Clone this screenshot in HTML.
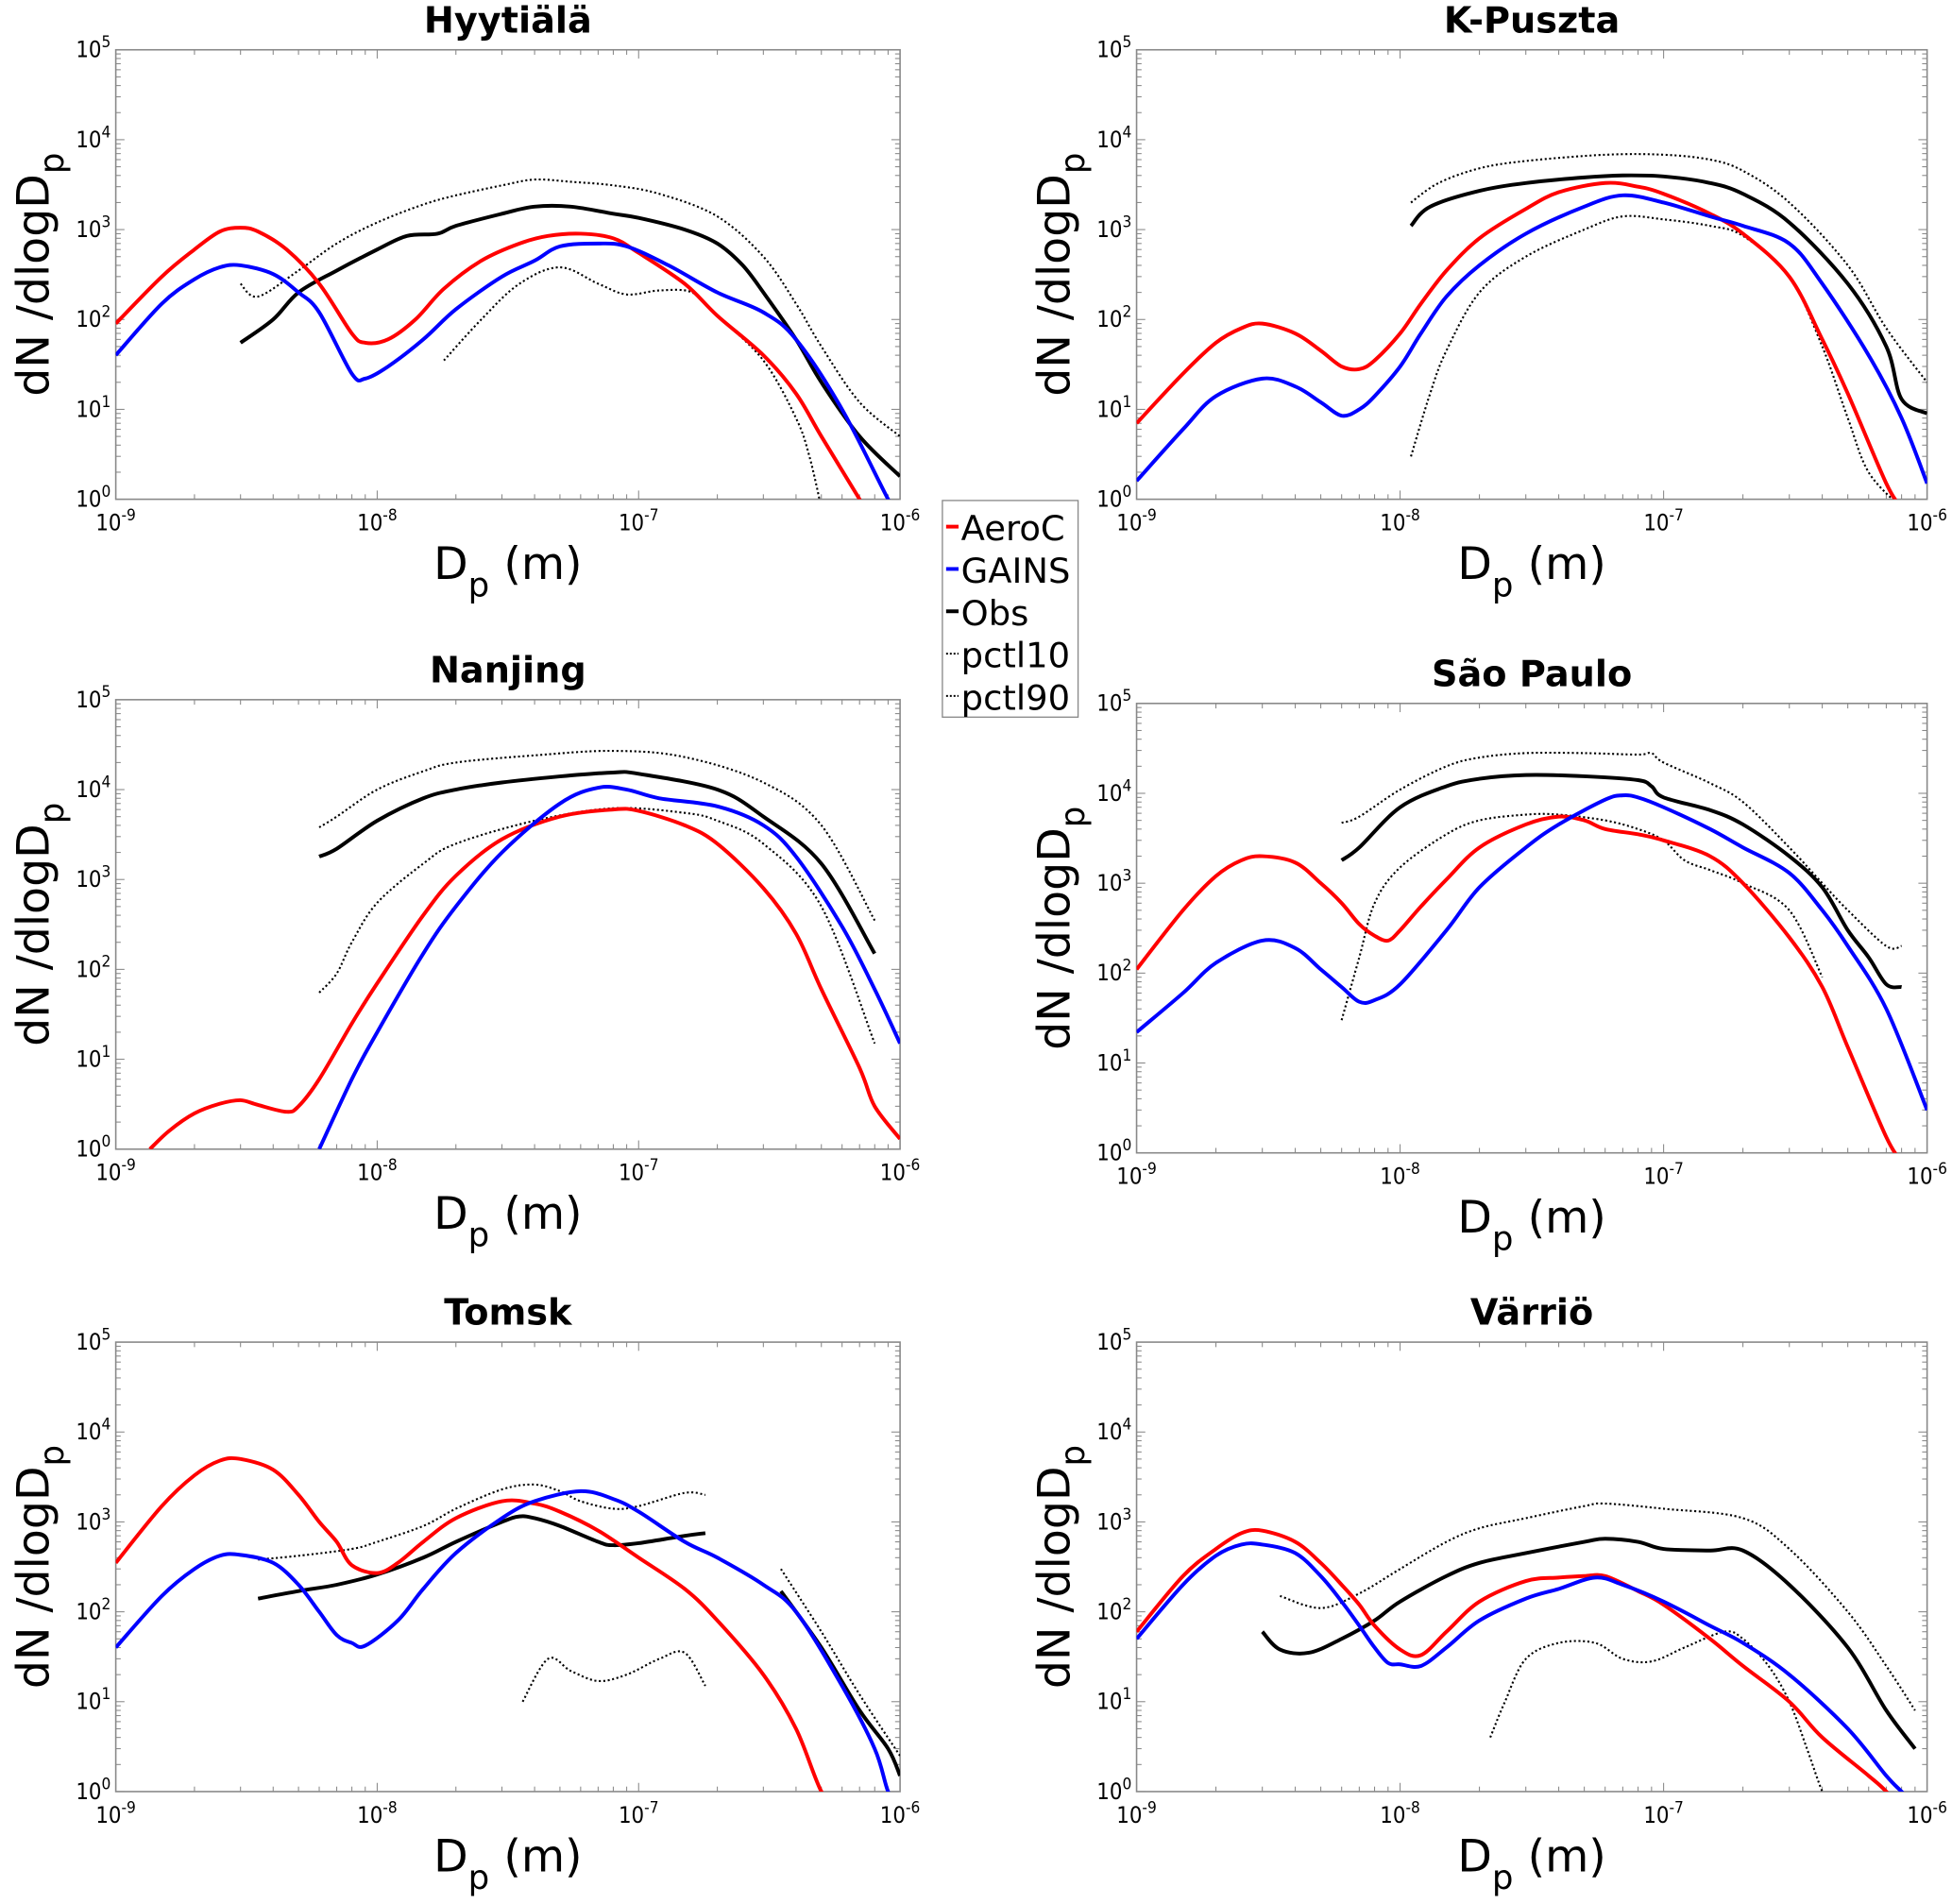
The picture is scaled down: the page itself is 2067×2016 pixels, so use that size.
<!DOCTYPE html>
<html><head><meta charset="utf-8"><style>
html,body{margin:0;padding:0;background:#fff;}
svg{display:block;}
text{font-family:"DejaVu Sans","Liberation Sans",sans-serif;}
.ttl{font-family:"Liberation Sans","DejaVu Sans",sans-serif;}
.tick{font-family:"DejaVu Sans Condensed","DejaVu Sans","Liberation Sans",sans-serif;}
</style></head><body>
<svg id="fig" width="2067" height="2016" viewBox="0 0 1568 1529.3" preserveAspectRatio="none" xmlns="http://www.w3.org/2000/svg">
<g id="legend">
<rect x="757" y="402" width="109" height="174" fill="#fff" stroke="#888" stroke-width="1"/>
<line x1="760" y1="423" x2="770" y2="423" stroke="#f00" stroke-width="3"/><text x="772" y="434" font-size="28">AeroC</text>
<line x1="760" y1="457" x2="770" y2="457" stroke="#00f" stroke-width="3"/><text x="772" y="468" font-size="28">GAINS</text>
<line x1="760" y1="491" x2="770" y2="491" stroke="#000" stroke-width="3"/><text x="772" y="502" font-size="28">Obs</text>
<line x1="760" y1="525" x2="770" y2="525" stroke="#000" stroke-width="1.5" stroke-dasharray="1.5,1.5"/><text x="772" y="536" font-size="28">pctl10</text>
<line x1="760" y1="559" x2="770" y2="559" stroke="#000" stroke-width="1.5" stroke-dasharray="1.5,1.5"/><text x="772" y="570" font-size="28">pctl90</text>
</g>
</svg>
<script>
// Data: [diameter (nm), dN/dlogDp]
const hyy_aeroc = [[1,90],[1.5,300],[2,600],[2.5,950],[3,1050],[3.5,950],[4.5,600],[6,250],[8,70],[9,55],[11,60],[14,100],[18,220],[25,450],[35,700],[45,850],[60,900],[80,800],[100,550],[150,250],[200,110],[300,40],[400,15],[500,5],[700,1],[800,0.5]];
const hyy_gains = [[1,40],[1.5,150],[2,280],[2.5,380],[3,400],[4,320],[5,200],[6,120],[8,25],[9,22],[11,30],[15,60],[20,130],[30,300],[40,450],[50,650],[70,700],[90,650],[130,400],[200,200],[300,120],[400,60],[600,10],[900,1],[1000,0.6]];
const hyy_obs = [[3,55],[4,100],[5,200],[7,350],[10,600],[13,850],[17,900],[20,1100],[30,1500],[40,1800],[55,1800],[80,1500],[100,1350],[150,1000],[200,700],[250,400],[300,200],[400,60],[500,20],[700,5],[1000,1.8]];
const hyy_p90 = [[3,250],[3.5,180],[5,350],[7,700],[10,1200],[15,1900],[20,2400],[30,3100],[40,3600],[55,3400],[80,3100],[120,2500],[200,1400],[300,500],[400,150],[500,50],[700,12],[1000,5]];
const hyy_p10 = [[18,35],[25,100],[35,250],[50,380],[70,250],[90,190],[120,210],[160,200],[200,110],[300,35],[400,8],[450,3],[500,0.8]];

const kp_aeroc = [[1,7],[1.5,25],[2,55],[2.5,80],[3,90],[4,70],[5,45],[6,30],[7,28],[8,35],[10,70],[12,150],[15,350],[20,800],[30,1700],[40,2600],[60,3300],[80,3000],[100,2500],[150,1500],[200,900],[300,300],[400,60],[500,15],[700,1.5],[800,0.8]];
const kp_gains = [[1,1.6],[1.5,6],[2,14],[3,22],[4,18],[5,12],[6,8.5],[7,10],[8,14],[10,30],[12,70],[15,180],[20,400],[30,900],[50,1800],[70,2400],[100,2000],[150,1400],[200,1100],[300,700],[400,250],[600,40],[800,8],[1000,1.5]];
const kp_obs = [[11,1100],[13,1800],[20,2700],[30,3300],[50,3800],[70,4000],[100,3900],[150,3300],[200,2500],[300,1200],[500,250],[700,50],[800,13],[1000,9]];
const kp_p90 = [[11,2000],[14,3300],[20,4800],[30,5800],[60,6800],[100,6800],[150,6000],[200,4500],[300,2000],[500,400],[700,80],[1000,20]];
const kp_p10 = [[11,3],[13,15],[15,45],[20,200],[30,500],[50,1000],[70,1400],[100,1300],[150,1100],[200,850],[300,300],[400,50],[500,8],[600,2],[800,0.8]];

const nj_aeroc = [[1.35,1],[1.6,1.6],[2,2.5],[2.5,3.2],[3,3.5],[3.5,3.1],[4.5,2.6],[5,3],[6,6],[8,25],[10,70],[15,400],[20,1100],[30,2800],[50,5000],[80,6000],[100,5800],[150,4000],[200,2500],[300,800],[400,250],[500,60],[700,8],[800,3],[1000,1.3]];
const nj_gains = [[6,1],[8,6],[10,20],[15,150],[20,500],[30,2000],[50,7000],[70,10500],[90,10000],[120,8000],[200,6500],[300,4000],[400,1800],[600,300],[800,60],[1000,15]];
const nj_obs = [[6,1800],[7,2200],[10,4500],[15,8000],[20,10000],[30,12000],[50,14000],[80,15500],[100,15000],[200,10000],[300,5000],[500,1500],[800,150]];
const nj_p90 = [[6,3800],[7,5000],[10,10000],[15,16000],[20,20000],[40,24000],[80,27000],[150,23000],[300,12000],[500,4000],[800,350]];
const nj_p10 = [[6,55],[7,90],[8,200],[10,550],[15,1500],[20,2500],[40,4500],[80,6200],[150,5500],[200,4500],[300,2500],[500,500],[800,15]];

const sp_aeroc = [[1,110],[1.5,500],[2,1200],[2.5,1800],[3,2000],[4,1700],[5,1000],[6,600],[7,350],[8,260],[9,230],[10,300],[12,550],[15,1100],[20,2500],[30,4500],[40,5500],[50,5000],[60,4000],[80,3500],[100,3000],[150,2000],[200,1000],[300,250],[400,70],[500,15],[700,1.5],[800,0.8]];
const sp_gains = [[1,22],[1.5,60],[2,130],[3,230],[4,190],[5,110],[6,70],[7,48],[8,50],[10,75],[15,300],[20,900],[30,2500],[40,4500],[60,8500],[70,9500],[80,9000],[100,7000],[150,4000],[200,2500],[300,1300],[400,500],[500,200],[700,40],[1000,3]];
const sp_obs = [[6,1800],[7,2500],[10,7000],[15,12000],[20,14500],[30,16000],[50,15500],[80,14000],[90,12000],[100,9000],[150,6500],[200,4500],[300,2000],[400,900],[500,300],[600,150],[700,75],[800,70]];
const sp_p90 = [[6,4700],[7,5500],[10,11000],[15,20000],[20,25000],[30,28000],[50,28000],[80,27000],[90,28000],[100,22000],[150,13000],[200,8000],[300,2500],[400,1000],[500,500],[700,200],[800,200]];
const sp_p10 = [[6,30],[7,150],[8,600],[10,1500],[15,3500],[20,5000],[30,5800],[40,5800],[60,5000],[80,4000],[100,3000],[120,1800],[150,1400],[200,1000],[300,500],[400,90]];

const tm_aeroc = [[1,350],[1.5,1500],[2,3300],[2.5,4800],[3,5000],[4,3800],[5,2000],[6,1000],[7,600],[8,330],[10,270],[12,350],[15,600],[20,1100],[30,1700],[40,1600],[50,1300],[70,800],[100,400],[150,180],[200,80],[300,20],[400,5],[500,1],[600,0.5]];
const tm_gains = [[1,40],[1.5,150],[2,300],[2.5,420],[3,430],[4,350],[5,200],[6,100],[7,55],[8,45],[9,42],[12,80],[15,180],[20,450],[30,1100],[40,1700],[60,2200],[80,1800],[100,1300],[150,600],[200,400],[300,200],[400,100],[600,15],[800,3],[900,1],[1000,0.6]];
const tm_obs = [[3.5,140],[5,170],[7,200],[10,260],[15,400],[20,600],[30,1000],[35,1150],[40,1100],[50,900],[70,600],[80,550],[100,580],[150,700],[180,750]];
const tm_obs2 = [[350,170],[500,40],[700,8],[900,3],[1000,1.5]];
const tm_p90 = [[3.5,380],[5,420],[8,500],[10,600],[15,900],[20,1400],[30,2300],[40,2600],[50,2200],[60,1700],[80,1400],[100,1500],[150,2100],[180,2000]];
const tm_p90b = [[350,300],[500,60],[700,12],[1000,2.5]];
const tm_p10 = [[36,10],[45,30],[55,22],[70,17],[90,20],[120,30],[150,35],[180,15]];

const va_aeroc = [[1,60],[1.5,250],[2,500],[2.5,750],[3,800],[4,600],[5,350],[6,200],[7,120],[8,70],[10,38],[12,33],[15,60],[20,130],[30,220],[40,240],[50,250],[60,250],[80,170],[100,120],[150,50],[200,25],[300,10],[400,4],[600,1.5],[700,1],[800,0.6]];
const va_gains = [[1,50],[1.5,200],[2,420],[2.5,560],[3,560],[4,450],[5,250],[6,130],[7,70],[8,40],[9,27],[10,26],[12,25],[15,40],[20,80],[30,140],[40,180],[55,240],[70,200],[100,130],[150,70],[200,45],[300,20],[500,5],[700,1.5],[800,1],[900,0.7]];
const va_obs = [[3,60],[3.5,38],[4.5,35],[6,50],[8,80],[10,130],[15,250],[20,350],[30,450],[50,600],[60,650],[80,600],[100,500],[150,480],[200,480],[300,200],[500,40],[700,8],[900,3]];
const va_p90 = [[3.5,150],[5,110],[7,160],[10,300],[15,600],[20,850],[30,1100],[50,1500],[60,1600],[100,1400],[200,1100],[300,500],[500,100],[700,25],[900,8]];
const va_p10 = [[22,4],[25,10],[30,30],[40,45],[55,45],[70,30],[90,28],[120,40],[170,60],[200,50],[250,25],[300,10],[350,3],[400,1],[450,0.5]];

const panelTitles = ["Hyytiälä","K-Puszta","Nanjing","São Paulo","Tomsk","Värriö"];
const xTickExp = [-9,-8,-7,-6];
const yTickExp = [0,1,2,3,4,5];

const NS = "http://www.w3.org/2000/svg";
const svg = document.getElementById('fig');
function mk(tag, attrs, parent){ const e=document.createElementNS(NS,tag); for(const k in attrs) e.setAttribute(k,attrs[k]); (parent||svg).appendChild(e); return e; }

const panels = [
  {x0:93,x1:723,y0:40,y1:401,key:'hyytiala',series:[[hyy_p90,'p'],[hyy_p10,'p'],[hyy_obs,'o'],[hyy_aeroc,'r'],[hyy_gains,'b']]},
  {x0:913,x1:1548,y0:40,y1:401,key:'k-puszta',series:[[kp_p90,'p'],[kp_p10,'p'],[kp_obs,'o'],[kp_aeroc,'r'],[kp_gains,'b']]},
  {x0:93,x1:723,y0:562,y1:923,key:'nanjing',series:[[nj_p90,'p'],[nj_p10,'p'],[nj_obs,'o'],[nj_aeroc,'r'],[nj_gains,'b']]},
  {x0:913,x1:1548,y0:565,y1:926,key:'sao-paulo',series:[[sp_p90,'p'],[sp_p10,'p'],[sp_obs,'o'],[sp_aeroc,'r'],[sp_gains,'b']]},
  {x0:93,x1:723,y0:1078,y1:1439,key:'tomsk',series:[[tm_p90,'p'],[tm_p90b,'p'],[tm_p10,'p'],[tm_obs,'o'],[tm_obs2,'o'],[tm_aeroc,'r'],[tm_gains,'b']]},
  {x0:913,x1:1548,y0:1078,y1:1439,key:'varrio',series:[[va_p90,'p'],[va_p10,'p'],[va_obs,'o'],[va_aeroc,'r'],[va_gains,'b']]}
];
const styles = {p:{stroke:'#000',w:1.6,dash:'1.6,2',name:'pctl'},o:{stroke:'#000',w:3,dash:'',name:'obs-line'},r:{stroke:'#f00',w:3,dash:'',name:'aeroc-line'},b:{stroke:'#00f',w:3,dash:'',name:'gains-line'}};

function smoothPath(pts){
  let d='M'+pts[0][0].toFixed(1)+','+pts[0][1].toFixed(1);
  for(let i=0;i<pts.length-1;i++){
    const p0=pts[Math.max(0,i-1)],p1=pts[i],p2=pts[i+1],p3=pts[Math.min(pts.length-1,i+2)];
    const c1x=p1[0]+(p2[0]-p0[0])/6,c1y=p1[1]+(p2[1]-p0[1])/6;
    const c2x=p2[0]-(p3[0]-p1[0])/6,c2y=p2[1]-(p3[1]-p1[1])/6;
    d+=' C'+c1x.toFixed(1)+','+c1y.toFixed(1)+' '+c2x.toFixed(1)+','+c2y.toFixed(1)+' '+p2[0].toFixed(1)+','+p2[1].toFixed(1);
  }
  return d;
}

panels.forEach((P,i)=>{
  const g = mk('g',{});
  
  
  const sx = d => P.x0 + (Math.log10(d*1e-9)+9)/3*(P.x1-P.x0);
  const sy = v => P.y1 - Math.log10(v)/5*(P.y1-P.y0);
  const xe = e => P.x0 + (e+9)/3*(P.x1-P.x0);
  const ye = e => P.y1 - e/5*(P.y1-P.y0);
  const cid = 'clip'+i;
  const cp = mk('clipPath',{id:cid},g);
  mk('rect',{x:P.x0,y:P.y0,width:P.x1-P.x0,height:P.y1-P.y0},cp);
  const tg = mk('g',{stroke:'#888','stroke-width':0.8},g);
  for(let e=-9;e<-6;e++){ for(let m=1;m<10;m++){ const X=P.x0+(e+9+Math.log10(m))/3*(P.x1-P.x0); const L=m===1?7:4;
    mk('line',{x1:X,y1:P.y1,x2:X,y2:P.y1-L},tg); mk('line',{x1:X,y1:P.y0,x2:X,y2:P.y0+L},tg);} }
  for(let e=0;e<5;e++){ for(let m=1;m<10;m++){ const Y=P.y1-(e+Math.log10(m))/5*(P.y1-P.y0); const L=m===1?7:4;
    mk('line',{x1:P.x0,y1:Y,x2:P.x0+L,y2:Y},tg); mk('line',{x1:P.x1,y1:Y,x2:P.x1-L,y2:Y},tg);} }
  const fr = mk('rect',{x:P.x0,y:P.y0,width:P.x1-P.x0,height:P.y1-P.y0,fill:'none',stroke:'#888','stroke-width':1.2},g);
  
  
  xTickExp.forEach(e=>{
    const t = mk('text',{x:xe(e),y:P.y1+25,'font-size':18,'text-anchor':'middle','class':'tick'},g);
    
    
    t.innerHTML = '10<tspan dy="-8" font-size="13">'+e+'</tspan>';
  });
  yTickExp.forEach(e=>{
    const t = mk('text',{x:P.x0-4,y:ye(e)+6,'font-size':18,'text-anchor':'end','class':'tick'},g);
    
    
    t.innerHTML = '10<tspan dy="-8" font-size="13">'+e+'</tspan>';
  });
  const sg = mk('g',{'clip-path':'url(#'+cid+')',fill:'none','stroke-linejoin':'round'},g);
  P.series.forEach(([arr,k])=>{
    const s = styles[k];
    const pts = arr.map(p=>[sx(p[0]),sy(p[1])]);
    const path = mk('path',{d:smoothPath(pts),stroke:s.stroke,'stroke-width':s.w},sg);
    if(s.dash) path.setAttribute('stroke-dasharray',s.dash);
    
    
  });
  const cx=(P.x0+P.x1)/2, cy=(P.y0+P.y1)/2;
  const ti = mk('text',{x:cx,y:P.y0-14,'font-size':29,'font-weight':'bold','text-anchor':'middle'},g);
  ti.textContent = panelTitles[i];
  
  
  const xl = mk('text',{x:cx,y:P.y1+64,'font-size':36,'text-anchor':'middle'},g);
  xl.innerHTML = 'D<tspan dy="14" font-size="27">p</tspan><tspan dy="-14"> (m)</tspan>';
  
  
  const yl = mk('text',{x:0,y:0,'font-size':36,'text-anchor':'middle',transform:'translate('+(P.x0-54)+','+cy+') rotate(-90)'},g);
  yl.innerHTML = 'dN /dlogD<tspan dy="12" font-size="27">p</tspan>';
  
  
});
</script>
</body></html>
